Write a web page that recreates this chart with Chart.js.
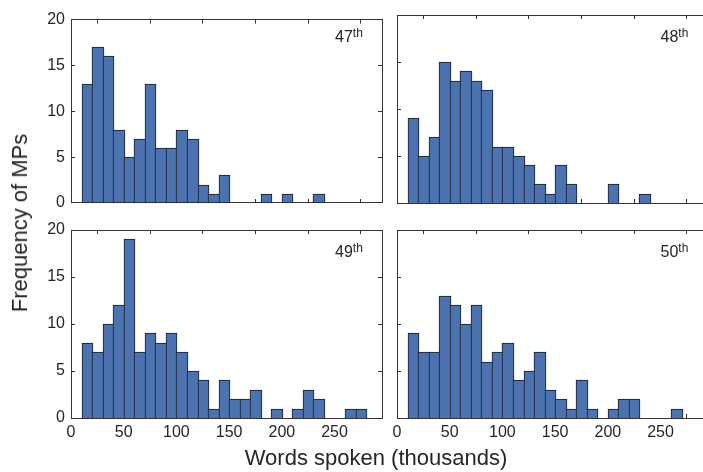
<!DOCTYPE html>
<html>
<head>
<meta charset="utf-8">
<script src="https://cdn.jsdelivr.net/npm/chart.js@4/dist/chart.umd.min.js"></script>
<style>
    html, body { margin: 0; padding: 0; background: #fff; overflow: hidden; }
    #wrap { position: relative; width: 720px; height: 472px; font-family: "Liberation Sans", Arial, sans-serif; color: #262626; }
    #wrap canvas { position: absolute; left: 0; top: 0; }
    .txt { position: absolute; white-space: nowrap; }
    .yTitle { left: 19.5px; top: 223px; font-size: 22px; line-height: 22px; transform: translate(-50%, -50%) rotate(-90deg); }
    .xTitle { left: 376px; top: 447px; font-size: 22px; line-height: 22px; transform: translateX(-50%); }
    .tag { font-size: 16px; line-height: 16px; }
    .tag span { font-size: 12px; position: relative; top: -5px; }
</style>
</head>
<body>
<div id="wrap">
    <canvas id="c47" width="720" height="472"></canvas>
    <canvas id="c48" width="720" height="472"></canvas>
    <canvas id="c49" width="720" height="472"></canvas>
    <canvas id="c50" width="720" height="472"></canvas>
    <div class="txt yTitle">Frequency of MPs</div>
    <div class="txt xTitle">Words spoken (thousands)</div>
    <div class="txt tag" style="left:335px;top:29px">47<span>th</span></div>
    <div class="txt tag" style="left:660.5px;top:29px">48<span>th</span></div>
    <div class="txt tag" style="left:335px;top:244px">49<span>th</span></div>
    <div class="txt tag" style="left:660.5px;top:244px">50<span>th</span></div>
</div>
<script>
// 구간 시작값 (천 단어), 구간 폭 10
var binStarts = [10, 20, 30, 40, 50, 60, 70, 80, 90, 100, 110, 120, 130, 140,
    150, 160, 170, 180, 190, 200, 210, 220, 230, 240, 250, 260, 270, 280];
var binWidth = 10;

// 의회별 빈도
var counts47 = [13, 17, 16, 8, 5, 7, 13, 6, 6, 8, 7, 2, 1, 3, 0, 0, 0, 1, 0, 1, 0, 0, 1, 0, 0, 0, 0, 0];
var counts48 = [9, 5, 7, 15, 13, 14, 13, 12, 6, 6, 5, 4, 2, 1, 4, 2, 0, 0, 0, 2, 0, 0, 1, 0, 0, 0, 0, 0];
var counts49 = [8, 7, 10, 12, 19, 7, 9, 8, 9, 7, 5, 4, 1, 4, 2, 2, 3, 0, 1, 0, 1, 3, 2, 0, 0, 1, 1, 0];
var counts50 = [9, 7, 7, 13, 12, 10, 12, 6, 7, 8, 4, 5, 7, 3, 2, 1, 4, 1, 0, 1, 2, 2, 0, 0, 0, 1, 0, 0];

// 축 범위 / 눈금
var xMin = 0, xMax = 295;
var yMin = 0, yMax = 20;
var xTicks = [0, 50, 100, 150, 200, 250];
var yTicks = [0, 5, 10, 15, 20];

var FRAME = '#333333';
var BAR_FILL = '#4c72b0';
var BAR_EDGE = '#151c27';
var FONT = { family: '"Liberation Sans", Arial, sans-serif', size: 16 };

var CANVAS_W = 720, CANVAS_H = 472;
var Y_W = 50, Y_RW = 10, X_H = 40, X_TH = 10;

// 패널 plot 영역 (px)
var panels = [
    { id: 'c47', counts: counts47, left: 71, top: 15, right: 382, bottom: 203, xLabels: false, yLabels: true },
    { id: 'c48', counts: counts48, left: 397, top: 15, right: 708, bottom: 203, xLabels: false, yLabels: false },
    { id: 'c49', counts: counts49, left: 71, top: 230, right: 382, bottom: 418, xLabels: true, yLabels: true },
    { id: 'c50', counts: counts50, left: 397, top: 230, right: 708, bottom: 418, xLabels: true, yLabels: false }
];

// 막대 경계를 픽셀에 맞춤 (인접 막대는 테두리 1px 공유)
var snapBars = {
    id: 'snapBars',
    beforeDatasetsDraw: function (chart) {
        chart.getDatasetMeta(0).data.forEach(function (bar) {
            if (bar.$snapped) return;
            var l = Math.round(bar.x - bar.width / 2);
            var r = Math.round(bar.x + bar.width / 2) + 1;
            bar.x = (l + r) / 2;
            bar.width = r - l;
            bar.y = Math.round(bar.y);
            bar.base = Math.round(bar.base) + 1;
            bar.$snapped = true;
        });
    }
};

function toPoints(_counts) {
    var pts = [];
    for (var i = 0; i < binStarts.length; i++) {
        pts.push({ x: binStarts[i] + binWidth / 2, y: _counts[i] > 0 ? _counts[i] : null });
    }
    return pts;
}

function fixTicks(_values) {
    return function (scale) {
        scale.ticks = _values.map(function (v) { return { value: v }; });
    };
}

function fixSize(_prop, _size) {
    return function (scale) { scale[_prop] = _size; };
}

function axis(_pos, _showLabels) {
    var horizontal = (_pos === 'bottom' || _pos === 'top');
    return {
        type: 'linear',
        position: _pos,
        min: horizontal ? xMin : yMin,
        max: horizontal ? xMax : yMax,
        offset: false,
        afterBuildTicks: fixTicks(horizontal ? xTicks : yTicks),
        afterFit: horizontal
            ? fixSize('height', _pos === 'bottom' ? X_H : X_TH)
            : fixSize('width', _pos === 'left' ? Y_W : Y_RW),
        border: { display: true, color: FRAME, width: 1 },
        // 안쪽 방향 눈금
        grid: { display: true, drawOnChartArea: false, drawTicks: true, tickLength: -4, color: FRAME, lineWidth: 1 },
        ticks: {
            display: _showLabels,
            color: '#262626',
            font: FONT,
            padding: horizontal ? 9 : 10,
            maxRotation: 0,
            autoSkip: false
        }
    };
}

function drawPanel(_p) {
    new Chart(document.getElementById(_p.id), {
        type: 'bar',
        data: {
            datasets: [{
                data: toPoints(_p.counts),
                backgroundColor: BAR_FILL,
                borderColor: BAR_EDGE,
                borderWidth: 1,
                borderSkipped: false,
                barPercentage: 1.0,
                categoryPercentage: 1.0
            }]
        },
        options: {
            responsive: false,
            animation: false,
            events: [],
            layout: {
                padding: {
                    left: _p.left - Y_W,
                    right: CANVAS_W - _p.right - Y_RW,
                    top: _p.top - X_TH,
                    bottom: CANVAS_H - _p.bottom - X_H
                }
            },
            plugins: { legend: { display: false }, tooltip: { enabled: false } },
            scales: {
                x: axis('bottom', _p.xLabels),
                x2: axis('top', false),
                y: axis('left', _p.yLabels),
                y2: axis('right', false)
            }
        },
        plugins: [snapBars]
    });
}

panels.forEach(drawPanel);
</script>
</body>
</html>
